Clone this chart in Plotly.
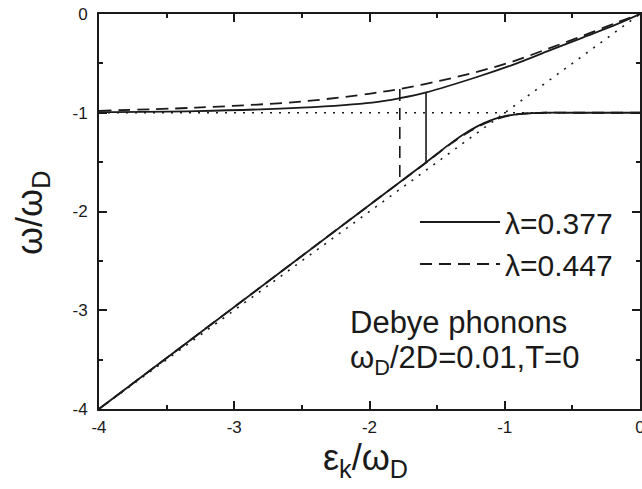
import plotly.graph_objects as go

# ---- data ----
eps_up = [-4.0, -3.28, -2.5, -1.98, -1.776, -1.58, -1.205, -0.946, -0.687, -0.428, -0.17, 0.0]
w_up_377 = [-0.993, -0.983, -0.948, -0.897, -0.852, -0.793, -0.638, -0.517, -0.379, -0.241, -0.103, 0.0]

eps_up2 = [-4.0, -3.28, -2.5, -1.98, -1.776, -1.465, -1.205, -0.946, -0.687, -0.428, -0.17, 0.0]
w_up_447 = [-0.98, -0.948, -0.886, -0.803, -0.759, -0.672, -0.586, -0.483, -0.355, -0.224, -0.086, 0.0]

eps_lo = [-4.0, -3.0, -2.0, -1.6, -1.5, -1.4, -1.3, -1.2, -1.1, -1.0, -0.9, -0.8, -0.7, -0.5, 0.0]
w_lo_377 = [-4.0, -2.967, -1.934, -1.522, -1.415, -1.31, -1.215, -1.135, -1.075, -1.035, -1.013, -1.004, -1.0, -1.0, -1.0]
w_lo_447 = [-4.0, -2.967, -1.934, -1.524, -1.418, -1.315, -1.222, -1.143, -1.082, -1.04, -1.015, -1.005, -1.0, -1.0, -1.0]

# vertical markers
vx_377 = [-1.582, -1.582]
vy_377 = [-0.793, -1.505]
vx_447 = [-1.776, -1.776]
vy_447 = [-0.759, -1.664]

ref_x = [-4.0, 0.0]
ref_diag = [-4.0, 0.0]
ref_flat = [-1.0, -1.0]

xticks = [-4, -3, -2, -1, 0]
yticks = [0, -1, -2, -3, -4]

FONT = "Arial, Liberation Sans, sans-serif"
BLK = "#1a1a1a"
DASH = "12px,7px"
DOT = "2px,7px"

L, R, T, B = 99, 640, 14, 409
PW, PH = R - L, B - T


def px(x):
    return (x - L) / PW


def py(y):
    return 1 - (y - T) / PH


fig = go.Figure()
# dotted references
fig.add_trace(go.Scatter(x=ref_x, y=ref_flat, mode="lines", showlegend=False,
                         line=dict(color=BLK, width=1.6, dash=DOT)))
fig.add_trace(go.Scatter(x=ref_x, y=ref_diag, mode="lines", showlegend=False,
                         line=dict(color=BLK, width=1.6, dash=DOT)))
# lambda = 0.377 (solid)
fig.add_trace(go.Scatter(x=eps_up, y=w_up_377, mode="lines", name="λ=0.377",
                         line=dict(color=BLK, width=1.8, shape="spline"), legendrank=1))
fig.add_trace(go.Scatter(x=eps_lo, y=w_lo_377, mode="lines", showlegend=False,
                         line=dict(color=BLK, width=1.8, shape="spline")))
fig.add_trace(go.Scatter(x=vx_377, y=vy_377, mode="lines", showlegend=False,
                         line=dict(color=BLK, width=1.6)))
# lambda = 0.447 (dashed)
fig.add_trace(go.Scatter(x=eps_up2, y=w_up_447, mode="lines", name="λ=0.447",
                         line=dict(color=BLK, width=1.8, dash=DASH, shape="spline"), legendrank=2))
fig.add_trace(go.Scatter(x=eps_lo, y=w_lo_447, mode="lines", showlegend=False,
                         line=dict(color=BLK, width=1.8, dash=DASH, shape="spline")))
fig.add_trace(go.Scatter(x=vx_447, y=vy_447, mode="lines", showlegend=False,
                         line=dict(color=BLK, width=1.6, dash=DASH)))

axis_common = dict(showline=True, linecolor=BLK, linewidth=2, mirror="allticks",
                   ticks="inside", ticklen=8, tickwidth=2, tickcolor=BLK,
                   showgrid=False, zeroline=False, ticklabeloverflow="allow",
                   tickfont=dict(family=FONT, size=17, color=BLK),
                   minor=dict(ticks="inside", ticklen=4, tickwidth=2, tickcolor=BLK, dtick=0.5))

fig.update_xaxes(range=[-4, 0], tickvals=xticks, ticktext=[str(v) for v in xticks],
                 ticklabelstandoff=2, **axis_common)
fig.update_yaxes(range=[-4, 0], tickvals=yticks, ticktext=[str(v) for v in yticks],
                 ticklabelstandoff=6, **axis_common)

fig.add_annotation(xref="paper", yref="paper", x=px(348), y=py(322),
                   xanchor="left", yanchor="middle", showarrow=False,
                   text="Debye phonons", font=dict(family=FONT, size=31, color=BLK))
fig.add_annotation(xref="paper", yref="paper", x=px(348), y=py(360),
                   xanchor="left", yanchor="middle", showarrow=False,
                   text="ω<sub>D</sub>/2D=0.01,T=0", font=dict(family=FONT, size=31, color=BLK))

fig.add_annotation(xref="paper", yref="paper", x=px(32), y=py(213),
                   xanchor="center", yanchor="middle", showarrow=False, textangle=-90,
                   text="ω/ω<sub>D</sub>", font=dict(family=FONT, size=36, color=BLK))
fig.add_annotation(xref="paper", yref="paper", x=px(365), y=py(460),
                   xanchor="center", yanchor="middle", showarrow=False,
                   text="ε<sub>k</sub>/ω<sub>D</sub>", font=dict(family=FONT, size=36, color=BLK))

fig.update_layout(
    width=642, height=489,
    margin=dict(l=L, r=642 - R, t=T, b=489 - B, autoexpand=False),
    plot_bgcolor="white", paper_bgcolor="white",
    showlegend=True,
    legend=dict(x=px(415), y=py(196), xanchor="left", yanchor="top",
                bgcolor="rgba(0,0,0,0)", font=dict(family=FONT, size=30, color=BLK),
                itemwidth=80, tracegroupgap=0),
)

fig.write_html("out.html", config={"displayModeBar": False},
               post_script="document.body.style.margin='0';document.body.style.overflow='hidden';")
